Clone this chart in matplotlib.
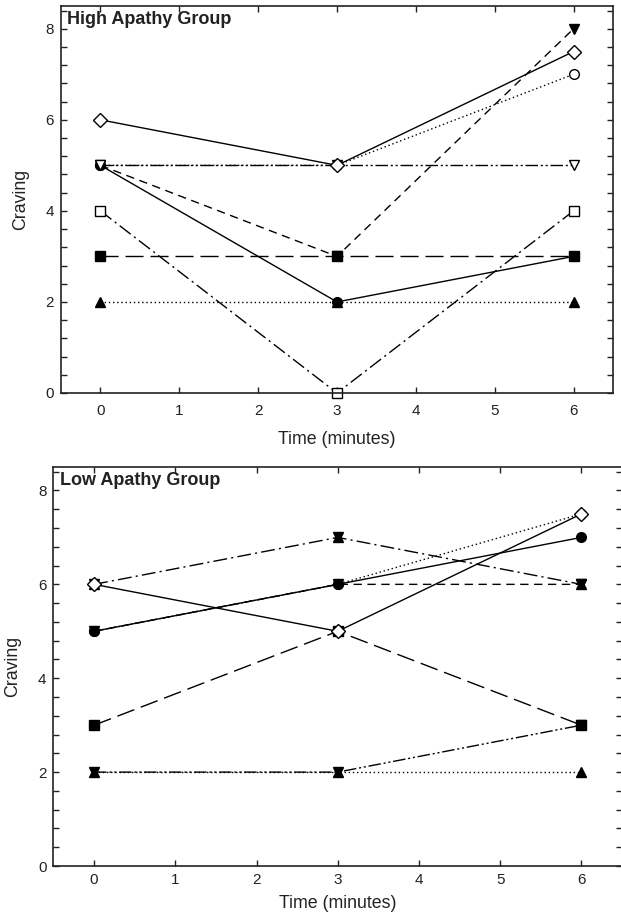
import matplotlib.pyplot as plt
from matplotlib.ticker import MultipleLocator

plt.rcParams['font.family'] = ['Liberation Sans', 'DejaVu Sans']

# tempi (minuti)
time = [0, 3, 6]

# High Apathy Group
high_fcircle = [5, 2, 3]
high_ocircle = [5, 5, 7]
high_fdown = [5, 3, 8]
high_odown = [5, 5, 5]
high_fsquare = [3, 3, 3]
high_osquare = [4, 0, 4]
high_odiamond = [6, 5, 7.5]
high_fup = [2, 2, 2]

# Low Apathy Group
low_ocircle = [5, 6, 7.5]
low_fcircle = [5, 6, 7]
low_fdown = [5, 6, 6]
low_star = [6, 7, 6]
low_fsquare = [3, 5, 3]
low_dashdot = [2, 2, 3]
low_fup = [2, 2, 2]
low_odiamond = [6, 5, 7.5]

xticks = [0, 1, 2, 3, 4, 5, 6]
yticks = [0, 2, 4, 6, 8]

LW = 1.0
solid = '-'
dotted = (0, (1, 2))
dashed = (0, (6, 4))
longdash = (0, (13, 5))
dashdot = (0, (10, 3, 1.5, 3))
dashdotdot = (0, (9, 2, 1.5, 2, 1.5, 2))


def line(ax, y, ls, marker, filled, ms=7):
    fc = 'black' if filled else 'white'
    ax.plot(time, y, color='black', lw=LW, linestyle=ls, marker=marker,
            markersize=ms, markerfacecolor=fc, markeredgecolor='black',
            markeredgewidth=1.0, clip_on=False)


def style(ax, title, xpad):
    ax.set_xlim(-0.5, 6.5)
    ax.set_ylim(0, 8.5)
    ax.set_xticks(xticks)
    ax.set_yticks(yticks)
    ax.yaxis.set_minor_locator(MultipleLocator(0.4))
    ax.tick_params(axis='both', which='both', direction='in', length=4,
                   width=1, top=True, right=True, labelsize=11, colors='#222222')
    ax.tick_params(axis='y', pad=5)
    ax.tick_params(axis='x', pad=xpad)
    ax.tick_params(axis='x', which='minor', top=False, bottom=False)
    for s in ax.spines.values():
        s.set_linewidth(1.2)
        s.set_color('#222222')
    ax.set_xlabel('Time (minutes)', fontsize=12.8, color='#222222')
    ax.set_ylabel('Craving', fontsize=12.8, color='#222222')
    ax.text(0.011, 0.987, title, transform=ax.transAxes, ha='left', va='top',
            fontsize=13, fontweight='bold', color='#222222')


fig = plt.figure(figsize=(6.21, 9.17), dpi=100)

ax1 = fig.add_axes([61 / 621, (917 - 393) / 917, 552 / 621, 387 / 917])
line(ax1, high_osquare, dashdot, 's', False, 6.5)
line(ax1, high_fup, dotted, '^', True)
line(ax1, high_fsquare, longdash, 's', True, 6.5)
line(ax1, high_ocircle, dotted, 'o', False)
line(ax1, high_fdown, dashed, 'v', True)
line(ax1, high_fcircle, solid, 'o', True)
line(ax1, high_odown, dashdotdot, 'v', False)
line(ax1, high_odiamond, solid, 'D', False, 6.8)
style(ax1, 'High Apathy Group', 8)
ax1.xaxis.labelpad = 9
ax1.yaxis.labelpad = 12

ax2 = fig.add_axes([53.5 / 621, (917 - 866) / 917, 568.5 / 621, 399 / 917])
line(ax2, low_ocircle, dotted, 'o', False)
line(ax2, low_fdown, dashed, 'v', True)
line(ax2, low_fcircle, solid, 'o', True)
line(ax2, low_star, dashdot, '^', True)
ax2.plot(time, low_star, linestyle='none', marker='v', markersize=7,
         color='black', clip_on=False)
line(ax2, low_fup, dotted, '^', True)
line(ax2, low_dashdot, dashdotdot, 'v', True)
line(ax2, low_fsquare, longdash, 's', True, 6.5)
line(ax2, low_odiamond, solid, 'D', False, 6.8)
style(ax2, 'Low Apathy Group', 5)
ax2.xaxis.labelpad = 6
ax2.yaxis.labelpad = 12

fig.savefig('out.png', dpi=100)
